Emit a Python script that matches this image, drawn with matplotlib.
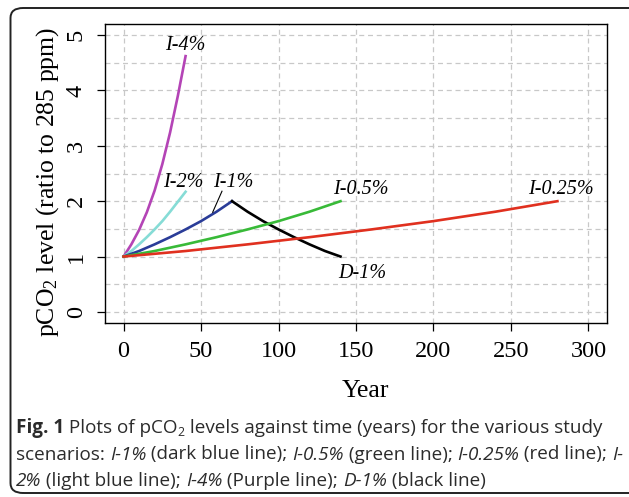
import matplotlib
matplotlib.use("Agg")
import matplotlib.pyplot as plt
from matplotlib.patches import FancyBboxPatch
import numpy as np

# values
yr_i4 = [0, 5, 10, 15, 20, 25, 30, 35, 40]
co2_i4 = [1.0, 1.22, 1.48, 1.80, 2.19, 2.67, 3.24, 3.90, 4.62]

yr_i2 = [0, 5, 10, 15, 20, 25, 30, 35, 40]
co2_i2 = [1.0, 1.10, 1.22, 1.35, 1.49, 1.64, 1.81, 1.99, 2.17]

yr_i1 = [0, 10, 20, 30, 40, 50, 60, 70]
co2_i1 = [1.0, 1.10, 1.22, 1.35, 1.49, 1.64, 1.81, 2.0]

yr_d1 = [70, 80, 90, 100, 110, 120, 130, 140]
co2_d1 = [2.0, 1.81, 1.64, 1.49, 1.35, 1.22, 1.10, 1.0]

yr_i05 = [0, 20, 40, 60, 80, 100, 120, 140]
co2_i05 = [1.0, 1.10, 1.22, 1.35, 1.49, 1.64, 1.81, 2.0]

yr_i025 = [0, 40, 80, 120, 160, 200, 240, 280]
co2_i025 = [1.0, 1.10, 1.22, 1.35, 1.49, 1.64, 1.81, 2.0]

x_ticks = [0, 50, 100, 150, 200, 250, 300]
y_ticks = [0, 1, 2, 3, 4, 5]

serif = "Liberation Serif"
plt.rcParams["mathtext.fontset"] = "custom"
plt.rcParams["mathtext.rm"] = serif
plt.rcParams["mathtext.it"] = serif + ":italic"

W, H = 629, 497
fig = plt.figure(figsize=(W / 100, H / 100), dpi=100)

# rounded frame round the whole figure, partly cut off on the right
frame = FancyBboxPatch((10.5 / W, 4 / H), 640 / W, 485 / H,
                       boxstyle="round,pad=0,rounding_size=0.02",
                       transform=fig.transFigure, fill=False,
                       edgecolor="#222222", linewidth=1.4, clip_on=False)
fig.patches.append(frame)

ax = fig.add_axes([105 / W, 1 - 323 / H, 502 / W, 299 / H])

ax.plot(yr_i4, co2_i4, color="#B444B6", lw=1.9)
ax.plot(yr_i2, co2_i2, color="#86DCD6", lw=1.9)
ax.plot(yr_i1, co2_i1, color="#2A3C98", lw=1.9)
ax.plot(yr_d1, co2_d1, color="black", lw=1.9)
ax.plot(yr_i05, co2_i05, color="#38BA38", lw=1.9)
ax.plot(yr_i025, co2_i025, color="#E0301F", lw=1.9)

lab = dict(fontsize=14.5, style="italic", family=serif, ha="center", va="center")
ax.text(40, 4.82, "I-4%", **lab)
ax.text(38.5, 2.33, "I-2%", **lab)
ax.text(71, 2.33, "I-1%", **lab)
ax.plot([57.5, 63.5], [1.80, 2.18], color="black", lw=0.8)
ax.text(153, 2.22, "I-0.5%", **lab)
ax.text(282, 2.22, "I-0.25%", **lab)
ax.text(154, 0.70, "D-1%", **lab)

ax.set_xlim(-12, 312)
ax.set_ylim(-0.2, 5.2)
ax.set_xticks(x_ticks)
ax.set_yticks(y_ticks)
ax.set_yticks(np.arange(0, 5.01, 0.5), minor=True)
ax.tick_params(which="minor", length=0)
ax.grid(True, which="both", color="#C8C8C8", linestyle=(0, (4, 3)), lw=0.9)
ax.set_axisbelow(True)
ax.tick_params(which="major", length=6, width=0.9, labelsize=17.5, pad=7)
for t in ax.get_xticklabels() + ax.get_yticklabels():
    t.set_family(serif)
for t in ax.get_yticklabels():
    t.set_rotation(90)
    t.set_va("center")
for s in ax.spines.values():
    s.set_linewidth(1.0)

ax.set_xlabel("Year", fontsize=18.5, family=serif)
ax.xaxis.set_label_coords((365 - 105) / 502, -(380 - 323) / 299)
ax.set_ylabel("pCO$_2$ level (ratio to 285 ppm)", fontsize=18.5, family=serif)
ax.yaxis.set_label_coords(-(105 - 61) / 502, 1 - (182 - 24) / 299)

cap_size = 13.6
cap_kw = dict(family="Open Sans", color="#2B2B2B", ha="left", va="baseline")
cap_lines = [
    [("Fig. 1", "bold", "normal"), (" Plots of pCO", "normal", "normal"),
     ("2", "sub", "normal"),
     (" levels against time (years) for the various study", "normal", "normal")],
    [("scenarios: ", "normal", "normal"), ("I-1%", "normal", "italic"),
     (" (dark blue line); ", "normal", "normal"), ("I-0.5%", "normal", "italic"),
     (" (green line); ", "normal", "normal"), ("I-0.25%", "normal", "italic"),
     (" (red line); ", "normal", "normal"), ("I-", "normal", "italic")],
    [("2%", "normal", "italic"), (" (light blue line); ", "normal", "normal"),
     ("I-4%", "normal", "italic"), (" (Purple line); ", "normal", "normal"),
     ("D-1%", "normal", "italic"), (" (black line)", "normal", "normal")],
]
fig.canvas.draw()
renderer = fig.canvas.get_renderer()
for i, parts in enumerate(cap_lines):
    x = 16
    base = 433 + 26.5 * i
    for txt, weight, style in parts:
        if weight == "sub":
            t = fig.text(x / W, 1 - (base + 3) / H, txt, fontsize=cap_size * 0.65,
                         style=style, **cap_kw)
        else:
            t = fig.text(x / W, 1 - base / H, txt, fontsize=cap_size,
                         weight=weight, style=style, **cap_kw)
        x += t.get_window_extent(renderer).width

fig.savefig("out.png", dpi=100)
